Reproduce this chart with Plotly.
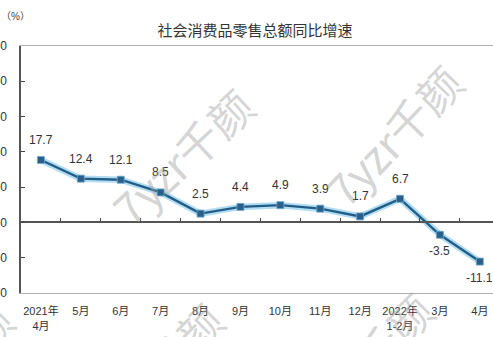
import plotly.graph_objects as go

categories = ["2021年<br>4月", "5月", "6月", "7月", "8月", "9月", "10月", "11月", "12月",
              "2022年<br>1-2月", "3月", "4月"]
values = [17.7, 12.4, 12.1, 8.5, 2.5, 4.4, 4.9, 3.9, 1.7, 6.7, -3.5, -11.1]
labels = ["17.7", "12.4", "12.1", "8.5", "2.5", "4.4", "4.9", "3.9", "1.7", "6.7", "-3.5", "-11.1"]
y_ticks = [-20, -10, 0, 10, 20, 30, 40, 50]
title_text = "社会消费品零售总额同比增速"
unit_text = "（%）"
watermark = "7yzr千颜"

W, H = 493, 337
L, T, B = 21, 46, 44
pw, ph = W - L, H - T - B

xs = list(range(len(categories)))
boundaries = [i + 0.5 for i in xs[:-1]]
FONT = "Liberation Sans, Arial, Noto Sans CJK SC, sans-serif"

fig = go.Figure()
# halo
fig.add_trace(go.Scatter(x=xs, y=values, mode="lines",
                         line=dict(color="rgba(150,210,240,0.75)", width=6.5),
                         hoverinfo="skip", showlegend=False))
fig.add_trace(go.Scatter(x=xs, y=values, mode="lines+markers",
                         line=dict(color="#235d86", width=2.4),
                         marker=dict(symbol="square", size=7, color="#2a5f8a",
                                     line=dict(color="#6fa8cc", width=0.8)),
                         showlegend=False))
# invisible trace for tick axis at zero
fig.add_trace(go.Scatter(x=[xs[0]], y=[0], xaxis="x2", mode="markers",
                         marker=dict(opacity=0), hoverinfo="skip", showlegend=False))

def px2paper(px, py):
    return (px - L) / pw, (H - B - py) / ph

annotations = []
for x, v, t in zip(xs, values, labels):
    annotations.append(dict(x=x, y=v, xref="x", yref="y", text=t, showarrow=False,
                            yshift=20 if v >= 0 else -16,
                            xanchor="center", yanchor="middle",
                            font=dict(family=FONT, size=12, color="#333333")))

# watermark copies
for cx, cy, ang in [(182, 156, -43), (393, 135, -46), (153, 372, -45),
                    (363, 362, -45), (-57, 372, -45), (211, -70, -45)]:
    ax, ay = px2paper(cx, cy)
    annotations.append(dict(x=ax, y=ay, xref="paper", yref="paper", text=watermark,
                            showarrow=False, textangle=ang,
                            xanchor="center", yanchor="middle",
                            font=dict(family="Noto Sans CJK SC, Liberation Sans", size=44,
                                      color="rgba(160,160,160,0.45)")))

ux, uy = px2paper(15, 17)
annotations.append(dict(x=ux, y=uy, xref="paper", yref="paper", text=unit_text,
                        showarrow=False, xanchor="center", yanchor="middle",
                        font=dict(family=FONT, size=10, color="#444444")))

fig.update_layout(
    width=W, height=H,
    margin=dict(l=L, r=0, t=T, b=B, autoexpand=False),
    paper_bgcolor="white", plot_bgcolor="white",
    title=dict(text=title_text, x=255 / W, xanchor="center", y=1 - 31 / H, yanchor="middle",
               font=dict(family="Noto Sans CJK SC, Liberation Sans", size=15, color="#333333")),
    xaxis=dict(range=[-0.5, 11.33], tickvals=xs, ticktext=categories,
               showline=True, mirror=True, linecolor="#b0b0b0", linewidth=1.2,
               ticks="", showgrid=False, zeroline=False, ticklabelstandoff=8,
               automargin=False,
               tickfont=dict(family=FONT, size=11, color="#333333")),
    xaxis2=dict(range=[-0.5, 11.33], overlaying="x", anchor="free", position=20 / 70,
                tickvals=boundaries, ticks="inside", ticklen=4, tickcolor="#444444",
                tickwidth=1, showticklabels=False, showline=True, linecolor="#555555",
                linewidth=1.5, showgrid=False, zeroline=False, automargin=False),
    yaxis=dict(range=[-20, 50], tickvals=y_ticks, ticks="inside", ticklen=4,
               tickcolor="#444444", showline=True, linecolor="#555555", linewidth=1.5,
               mirror=False, showgrid=False, zeroline=False, ticklabelstandoff=10,
               automargin=False,
               tickfont=dict(family=FONT, size=12, color="#333333")),
    annotations=annotations,
)

fig.write_html("out.html")
